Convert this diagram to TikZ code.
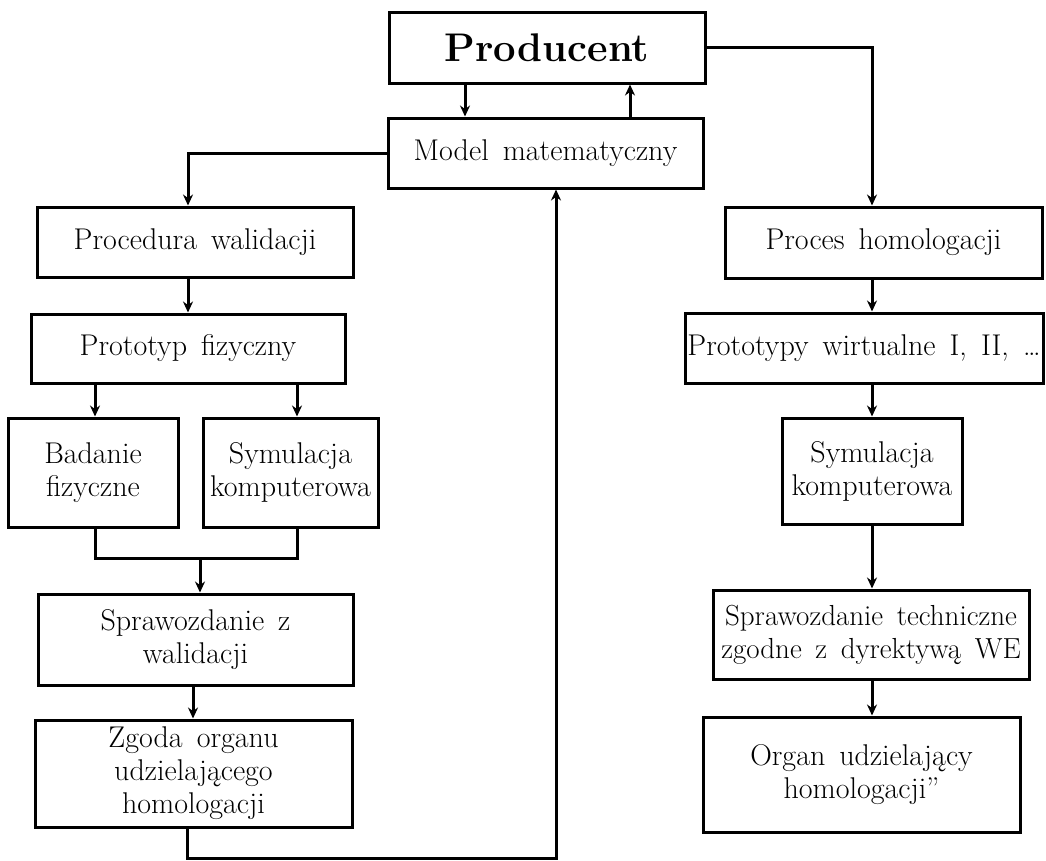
\documentclass[tikz,border=0pt]{standalone}
\usepackage{fontspec}
\setmainfont{Latin Modern Roman}
\usetikzlibrary{arrows.meta}
\begin{document}
\begin{tikzpicture}[x=1pt,y=-1pt,
  box/.style={draw=black,line width=3pt,fill=white,inner sep=0pt,align=center,font=\fontsize{30}{33}\selectfont},
  arr/.style={draw=black,line width=3pt,-{Stealth[length=11pt,width=10pt]}},
  ln/.style={draw=black,line width=3pt}]
\useasboundingbox (0,0) rectangle (1046,860);
% nodes
\node[box,minimum width=316pt,minimum height=71pt,font=\fontsize{40}{44}\selectfont\bfseries] (prod) at (547,47.5) {Producent};
\node[box,minimum width=315pt,minimum height=70pt] (model) at (545.5,153) {Model\, matematyczny};
\node[box,minimum width=316pt,minimum height=70pt] (proc) at (195,242) {Procedura\, walidacji};
\node[box,minimum width=314pt,minimum height=69pt] (protf) at (188,348.5) {Prototyp\, fizyczny};
\node[box,minimum width=170pt,minimum height=109pt] (bad) at (93,472.5) {Badanie\\fizyczne};
\node[box,minimum width=175pt,minimum height=109pt] (syml) at (290.5,472.5) {Symulacja\\komputerowa};
\node[box,minimum width=315pt,minimum height=91pt] (spr) at (195.5,639.5) {Sprawozdanie\, z\\walidacji};
\node[box,minimum width=317pt,minimum height=107pt] (zgoda) at (193.5,773.5) {Zgoda\, organu\\udzielającego\\homologacji};
\node[box,minimum width=317pt,minimum height=71pt] (homol) at (883.5,242.5) {Proces\, homologacji};
\node[box,minimum width=358pt,minimum height=70pt] (protw) at (864,348) {Prototypy\, wirtualne\, I,\, II,\, …};
\node[box,minimum width=180pt,minimum height=106pt] (symr) at (872,471) {Symulacja\\komputerowa};
\node[box,minimum width=316pt,minimum height=89pt,font=\fontsize{29}{33}\selectfont] (sprt) at (871,634.5) {Sprawozdanie\, techniczne\\zgodne\, z\, dyrektywą\, WE};
\node[box,minimum width=317pt,minimum height=115pt] (organ) at (861.5,774.5) {Organ\, udzielający\\homologacji”};
% connectors
\draw[arr] (465,0 |- prod.south) -- (465,0 |- model.north);
\draw[arr] (630,0 |- model.north) -- (630,0 |- prod.south);
\draw[arr] (prod.east) -| (872,0 |- homol.north);
\draw[arr] (model.west) -| (188,0 |- proc.north);
\draw[arr] (188,0 |- proc.south) -- (188,0 |- protf.north);
\draw[arr] (95,0 |- protf.south) -- (95,0 |- bad.north);
\draw[arr] (297,0 |- protf.south) -- (297,0 |- syml.north);
\coordinate (mergeL) at (95,558);
\coordinate (mergeR) at (297,558);
\coordinate (mergeC) at (200,558);
\draw[ln] (95,0 |- bad.south) -- (mergeL) -- (mergeR) -- (297,0 |- syml.south);
\draw[arr] (mergeC) -- (200,0 |- spr.north);
\draw[arr] (193,0 |- spr.south) -- (193,0 |- zgoda.north);
\coordinate (back) at (187,858);
\draw[arr] (187,0 |- zgoda.south) -- (back) -| (556,0 |- model.south);
\draw[arr] (872,0 |- homol.south) -- (872,0 |- protw.north);
\draw[arr] (872,0 |- protw.south) -- (872,0 |- symr.north);
\draw[arr] (872,0 |- symr.south) -- (872,0 |- sprt.north);
\draw[arr] (872,0 |- sprt.south) -- (872,0 |- organ.north);
\end{tikzpicture}
\end{document}
